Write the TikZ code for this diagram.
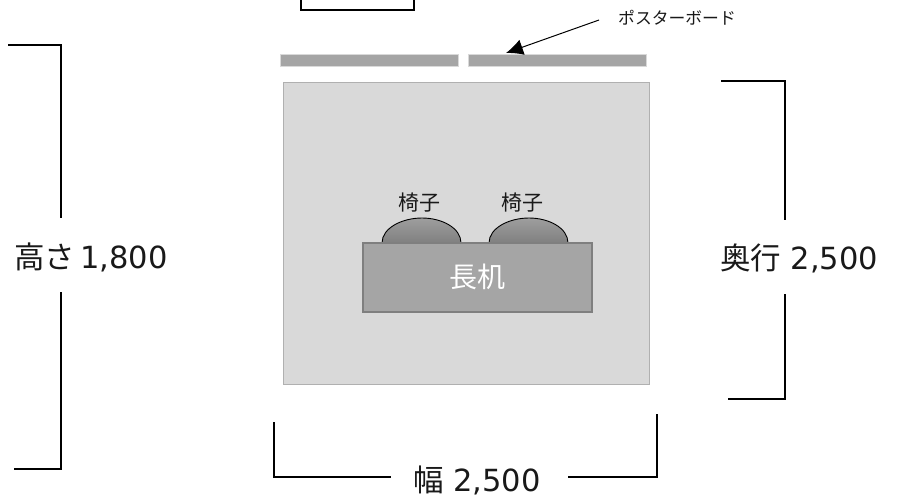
\documentclass[tikz,border=0pt]{standalone}
\usepackage{fontspec}
\usetikzlibrary{arrows.meta}
\setmainfont{DejaVu Sans}
\newfontfamily\jpfont{Noto Sans CJK JP}
\definecolor{wallgray}{HTML}{D9D9D9}
\definecolor{wallline}{HTML}{B0B0B0}
\definecolor{boardgray}{HTML}{A5A5A5}
\definecolor{deskline}{HTML}{7F7F7F}
\begin{document}
\begin{tikzpicture}[x=1pt,y=-1pt]
            \tikzstyle{board}=[rectangle,fill=boardgray,draw=wallgray,line width=.6pt,inner sep=0pt,minimum width=178pt,minimum height=12pt]
            \tikzstyle{mesure}=[font=\fontsize{30.5}{34}\selectfont,inner sep=0pt,text=black!90]
            \tikzstyle{petit}=[font=\jpfont\fontsize{21}{24}\selectfont,inner sep=0pt,text=black!90]
            \tikzset{bracket/.style = {line width=2pt,line join=miter,black}}
            \tikzset{edge/.style = {-{Latex[length=17pt,width=16pt]},line width=1pt}}
            \tikzset{chair/.style = {top color=black!38,bottom color=black!50,draw=black,line width=.9pt}}
            \useasboundingbox (0,0) rectangle (897,499);
            \node[rectangle,draw=wallline,line width=1pt,fill=wallgray,inner sep=0pt,minimum width=366pt,minimum height=302pt] (floor) at (466,233) {};
            \node[board] (board1) at (369.5,60.5) {};
            \node[board] (board2) at (557.5,60.5) {};
            \node[rectangle,draw,line width=2pt,inner sep=0pt,minimum width=113pt,minimum height=30pt] (box) at (357.5,-5) {};
            \node[petit,anchor=west,font=\jpfont\fontsize{16.8}{20}\selectfont] (poster) at (618,18) {ポスターボード};
            \coordinate (p1) at (599,20);
            \coordinate (p2) at (506,53);
            \draw[edge] (p1) -- (p2);
            % chaises
            \draw[chair] (382,243) .. controls (382,228) and (402,218) .. (422,218) .. controls (442,218) and (461,228) .. (461,243);
            \draw[chair] (489,243) .. controls (489,228) and (509,218) .. (529,218) .. controls (549,218) and (568,228) .. (568,243);
            \node[petit] (chair1) at (419.5,203) {椅子};
            \node[petit] (chair2) at (522,203) {椅子};
            \node[rectangle,draw=deskline,line width=2pt,fill=boardgray,text=white,inner sep=0pt,minimum width=229pt,minimum height=69pt,font=\jpfont\fontsize{28}{32}\selectfont] (desk) at (477,277) {\raisebox{-2pt}{長机}};
            % cotes
            \node[mesure] (height) at (91,257) {{\jpfont 高さ}\hspace{5pt}1,800};
            \node[mesure] (depth) at (799,258) {{\jpfont 奥行} 2,500};
            \node[mesure] (width) at (477,480) {{\jpfont 幅} 2,500};
            \coordinate (h1) at (8,45);
            \coordinate (h2) at (61,45);
            \coordinate (h3) at (61,218);
            \coordinate (h4) at (61,292);
            \coordinate (h5) at (61,469);
            \coordinate (h6) at (14,469);
            \draw[bracket] (h1) -- (h2) -- (h3);
            \draw[bracket] (h4) -- (h5) -- (h6);
            \coordinate (d1) at (721,81);
            \coordinate (d2) at (785,81);
            \coordinate (d3) at (785,220);
            \coordinate (d4) at (785,294);
            \coordinate (d5) at (785,399);
            \coordinate (d6) at (728,399);
            \draw[bracket] (d1) -- (d2) -- (d3);
            \draw[bracket] (d4) -- (d5) -- (d6);
            \coordinate (w1) at (274,422);
            \coordinate (w2) at (274,477);
            \coordinate (w3) at (391,477);
            \coordinate (w4) at (568,477);
            \coordinate (w5) at (657,477);
            \coordinate (w6) at (657,414);
            \draw[bracket] (w1) -- (w2) -- (w3);
            \draw[bracket] (w4) -- (w5) -- (w6);
        \end{tikzpicture}
\end{document}
